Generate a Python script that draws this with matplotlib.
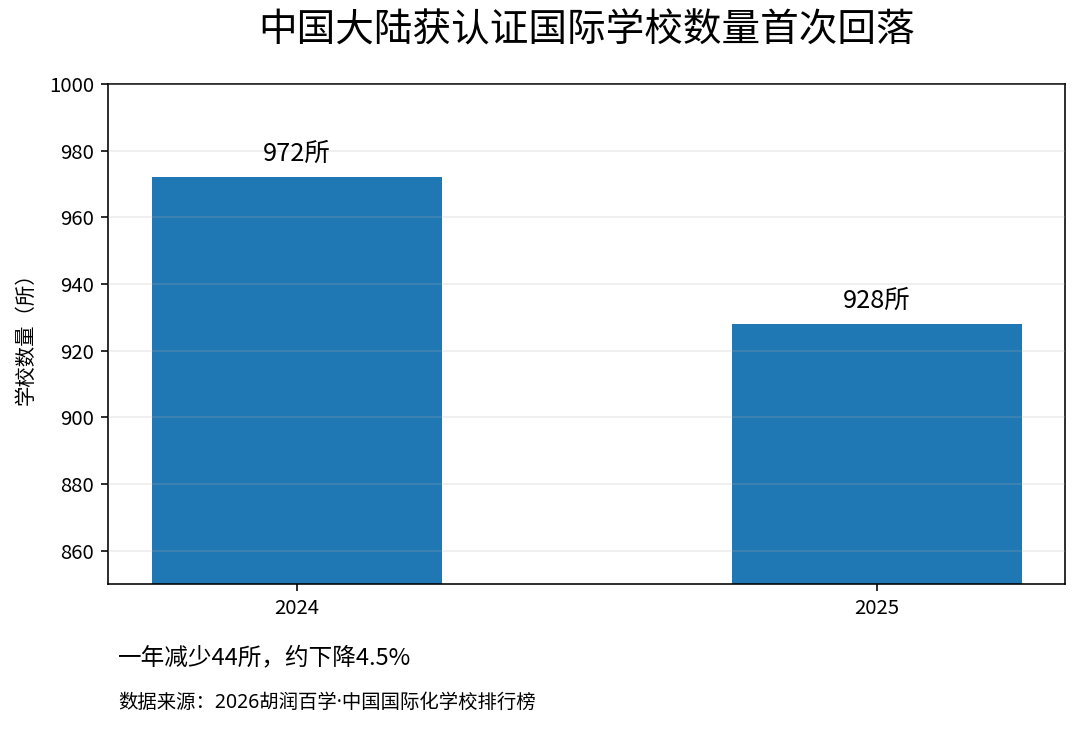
import matplotlib
matplotlib.use('Agg')
import matplotlib.pyplot as plt

plt.rcParams['font.family'] = ['Noto Sans CJK SC', 'DejaVu Sans']
plt.rcParams['axes.unicode_minus'] = False

years = ['2024', '2025']
counts = [972, 928]
bar_labels = ['972所', '928所']

title = '中国大陆获认证国际学校数量首次回落'
ylabel = '学校数量（所）'
note = '一年减少44所，约下降4.5%'
source = '数据来源：2026胡润百学·中国国际化学校排行榜'

fig = plt.figure(figsize=(7.5, 5.0625), dpi=144)
ax = fig.add_axes([108 / 1080, 1 - 584 / 729, (1065 - 108) / 1080, (584 - 84) / 729])

x = list(range(len(years)))
bars = ax.bar(x, counts, width=0.5, color='#1f77b4', zorder=2)
ax.set_xticks(x)
ax.set_xticklabels(years)
ax.set_ylim(850, 1000)
ax.set_yticks(range(860, 1001, 20))
ax.tick_params(labelsize=10.2)

# light grid, drawn over the bars like in the original
ax.grid(axis='y', color='#b0b0b0', alpha=0.2, linewidth=1, zorder=3)
ax.set_axisbelow(False)

for rect, lab in zip(bars, bar_labels):
    ax.annotate(lab, (rect.get_x() + rect.get_width() / 2, rect.get_height()),
                xytext=(0, 5), textcoords='offset points',
                ha='center', va='bottom', fontsize=12.7)

ax.set_ylabel(ylabel, fontsize=10.2, labelpad=6)

fig.text(586.5 / 1080, 1 - 31 / 729, title, ha='center', va='center', fontsize=19.3)
fig.text(118 / 1080, 1 - 658 / 729, note, ha='left', va='center', fontsize=11.8)
fig.text(118 / 1080, 1 - 703 / 729, source, ha='left', va='center', fontsize=9.7,
         family=['Noto Sans', 'Noto Sans CJK SC'])

fig.savefig('out.png', dpi=144)
